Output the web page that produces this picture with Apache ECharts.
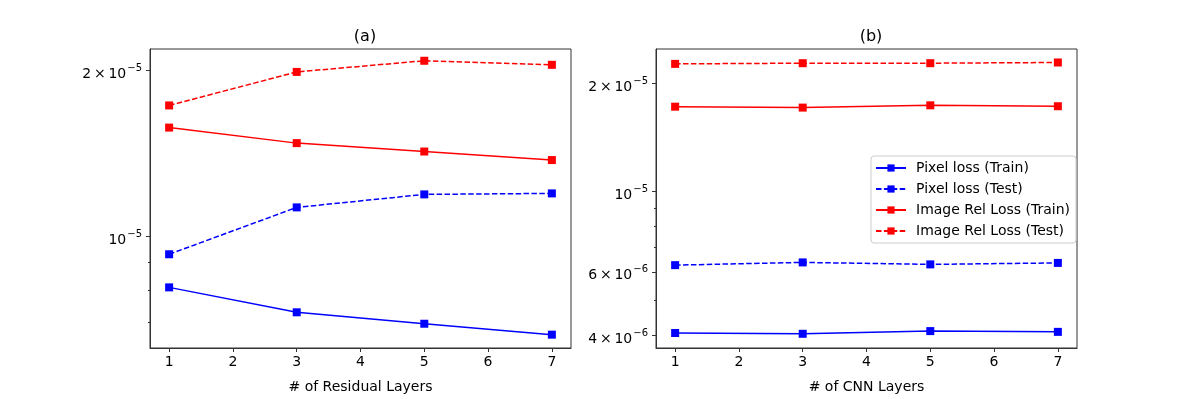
<!DOCTYPE html>
<html>
<head>
<meta charset="utf-8">
<script src="https://cdn.jsdelivr.net/npm/echarts@6/dist/echarts.min.js"></script>
<style>
  html, body { margin: 0; padding: 0; background: #fff; }
  #chart { width: 1196px; height: 399px; }
</style>
</head>
<body>
<div id="chart"></div>
<script>
const layers = [1, 3, 5, 7];
const seriesNames = ['Pixel loss (Train)', 'Pixel loss (Test)', 'Image Rel Loss (Train)', 'Image Rel Loss (Test)'];

// (a) residual layers
const resPixelTrain = [8.09e-6, 7.29e-6, 6.95e-6, 6.64e-6];
const resPixelTest = [9.29e-6, 1.13e-5, 1.193e-5, 1.198e-5];
const resImageTrain = [1.577e-5, 1.478e-5, 1.427e-5, 1.377e-5];
const resImageTest = [1.73e-5, 1.99e-5, 2.085e-5, 2.05e-5];

// (b) cnn layers
const cnnPixelTrain = [4.06e-6, 4.04e-6, 4.11e-6, 4.09e-6];
const cnnPixelTest = [6.26e-6, 6.37e-6, 6.29e-6, 6.35e-6];
const cnnImageTrain = [1.72e-5, 1.71e-5, 1.735e-5, 1.725e-5];
const cnnImageTest = [2.26e-5, 2.27e-5, 2.27e-5, 2.28e-5];

const xTicks = [1, 2, 3, 4, 5, 6, 7];
// tick labels: [mantissa, exponent]
const leftTickValues = [1e-5, 2e-5];
const leftTickLabels = [['', '−5'], ['2', '−5']];
const leftMinorTicks = [7e-6, 8e-6, 9e-6];
const rightTickValues = [4e-6, 6e-6, 1e-5, 2e-5];
const rightTickLabels = [['4', '−6'], ['6', '−6'], ['', '−5'], ['2', '−5']];
const rightMinorTicks = [5e-6, 7e-6, 8e-6, 9e-6];

const axisColor = '#333';
const font = 'DejaVu Sans';

function labelFor(values, labels) {
    return function (v) {
        for (let i = 0; i < values.length; i++) {
            if (Math.abs(v / values[i] - 1) < 1e-3) {
                let [m, e] = labels[i];
                let base = m ? m + '\u2009×\u200910' : '10';
                return '{b|' + base + '}{s|' + e + '}';
            }
        }
        return '';
    };
}

function xAxis(gridIndex, name) {
    return {
        type: 'value', gridIndex, min: 0.7, max: 7.3,
        name, nameLocation: 'middle', nameGap: 32,
        nameTextStyle: {fontFamily: font, fontSize: 14, color: '#000'},
        axisLine: {show: true, lineStyle: {color: axisColor, width: 1}},
        axisTick: {show: true, length: 4, inside: false, customValues: xTicks, lineStyle: {color: axisColor}},
        axisLabel: {customValues: xTicks, margin: 7, fontFamily: font, fontSize: 14, color: '#000'},
        splitLine: {show: false}
    };
}

function yAxis(gridIndex, min, max, values, labels) {
    return {
        type: 'log', logBase: 10, gridIndex, min, max, position: 'left',
        axisLine: {show: true, lineStyle: {color: axisColor, width: 1}},
        axisTick: {show: true, length: 4, customValues: values, lineStyle: {color: axisColor}},
        axisLabel: {
            customValues: values, margin: 8, color: '#000',
            padding: [4, 0, 0, 0],
            formatter: labelFor(values, labels),
            rich: {
                b: {fontFamily: font, fontSize: 14, color: '#000', lineHeight: 18, verticalAlign: 'bottom'},
                s: {fontFamily: font, fontSize: 10, color: '#000', lineHeight: 18, verticalAlign: 'top', padding: [0, 0, 0, 1]}
            }
        },
        splitLine: {show: false}
    };
}

function minorAxis(gridIndex, min, max, values) {
    return {
        type: 'log', logBase: 10, gridIndex, min, max, position: 'left',
        axisLine: {show: false},
        axisTick: {show: true, length: 2, customValues: values, lineStyle: {color: axisColor}},
        axisLabel: {show: false},
        splitLine: {show: false}
    };
}

function line(name, vals, xi, yi, color, dashed) {
    return {
        name, type: 'line', xAxisIndex: xi, yAxisIndex: yi,
        data: layers.map((x, i) => [x, vals[i]]),
        symbol: 'rect', symbolSize: 8,
        lineStyle: {color, width: 1.5, type: dashed ? [5.5, 2.4] : 'solid'},
        itemStyle: {color},
        emphasis: {disabled: true},
        animation: false
    };
}

const chart = echarts.init(document.getElementById('chart'));
chart.setOption({
    backgroundColor: '#fff',
    animation: false,
    title: [
        {text: '(a)', left: 360, top: 24, textAlign: 'center', textStyle: {fontFamily: font, fontSize: 16, fontWeight: 'normal', color: '#000'}},
        {text: '(b)', left: 866, top: 24, textAlign: 'center', textStyle: {fontFamily: font, fontSize: 16, fontWeight: 'normal', color: '#000'}}
    ],
    grid: [
        {left: 150, top: 49, width: 421, height: 300, show: true, borderColor: axisColor, borderWidth: 1},
        {left: 656, top: 49, width: 421, height: 301, show: true, borderColor: axisColor, borderWidth: 1}
    ],
    legend: {
        data: seriesNames,
        orient: 'vertical',
        left: 871, top: 156,
        padding: [4, 6, 4, 4],
        itemGap: 5,
        itemWidth: 30, itemHeight: 9,
        borderColor: '#ccc', borderWidth: 1, borderRadius: 3,
        backgroundColor: '#fff',
        textStyle: {fontFamily: font, fontSize: 14, lineHeight: 16, color: '#000', padding: [0, 0, 0, 5]}
    },
    xAxis: [xAxis(0, '# of Residual Layers'), xAxis(1, '# of CNN Layers')],
    yAxis: [
        yAxis(0, 6.28e-6, 2.19e-5, leftTickValues, leftTickLabels),
        yAxis(1, 3.69e-6, 2.485e-5, rightTickValues, rightTickLabels),
        minorAxis(0, 6.28e-6, 2.19e-5, leftMinorTicks),
        minorAxis(1, 3.69e-6, 2.485e-5, rightMinorTicks)
    ],
    series: [
        line(seriesNames[0], resPixelTrain, 0, 0, '#0000ff', false),
        line(seriesNames[1], resPixelTest, 0, 0, '#0000ff', true),
        line(seriesNames[2], resImageTrain, 0, 0, '#ff0000', false),
        line(seriesNames[3], resImageTest, 0, 0, '#ff0000', true),
        line(seriesNames[0], cnnPixelTrain, 1, 1, '#0000ff', false),
        line(seriesNames[1], cnnPixelTest, 1, 1, '#0000ff', true),
        line(seriesNames[2], cnnImageTrain, 1, 1, '#ff0000', false),
        line(seriesNames[3], cnnImageTest, 1, 1, '#ff0000', true)
    ]
});
</script>
</body>
</html>
